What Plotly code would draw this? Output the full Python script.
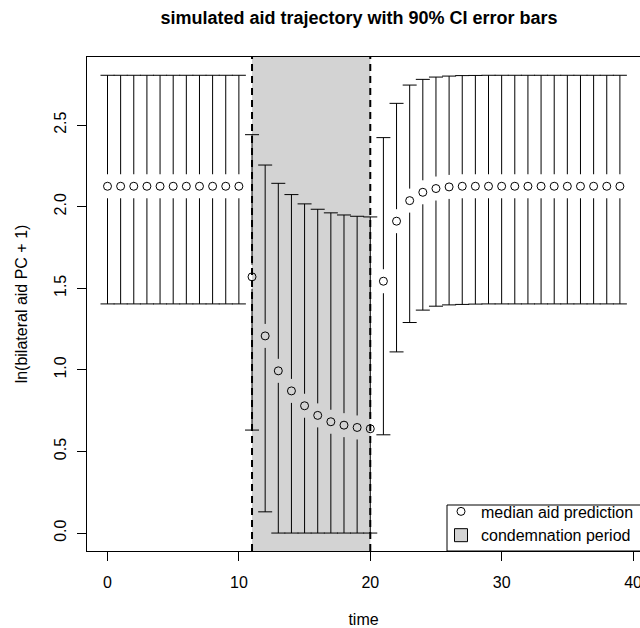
import plotly.graph_objects as go

# ---- data ----
time = list(range(40))
median = [2.125] * 11 + [1.570, 1.208, 0.994, 0.871, 0.780, 0.721, 0.682, 0.661, 0.647, 0.639,
                         1.543, 1.911, 2.037, 2.088, 2.111, 2.121] + [2.125] * 13
upper = [2.805] * 11 + [2.441, 2.255, 2.143, 2.074, 2.017, 1.984, 1.962, 1.949, 1.941, 1.937,
                        2.423, 2.633, 2.745, 2.780, 2.794, 2.800, 2.803, 2.804] + [2.805] * 11
lower = [1.404] * 11 + [0.631, 0.130, 0.0, 0.0, 0.0, 0.0, 0.0, 0.0, 0.0, 0.0,
                        0.602, 1.110, 1.290, 1.366, 1.390, 1.398, 1.401, 1.403] + [1.404] * 11
period_start, period_end = 11, 20
x_ticks = [0, 10, 20, 30, 40]
y_ticks = [0.0, 0.5, 1.0, 1.5, 2.0, 2.5]

# ---- layout geometry ----
W, H = 640, 628
ML, MR, MT, MB = 87, 0, 57, 77
XR = [-1.56, 40.53]
YR = [-0.110, 2.917]
plot_h = H - MT - MB
plot_w = W - ML - MR
GAP_PX = 12
gap = GAP_PX * (YR[1] - YR[0]) / plot_h

FONT = "Liberation Sans, Arial, Helvetica, sans-serif"

# CI segments with a gap around each median point
seg_x, seg_y = [], []
for t, m, u, l in zip(time, median, upper, lower):
    if u > m + gap:
        seg_x += [t, t, None]
        seg_y += [u, m + gap, None]
    if l < m - gap:
        seg_x += [t, t, None]
        seg_y += [m - gap, l, None]

fig = go.Figure()

fig.add_shape(type="rect", xref="x", yref="y domain", x0=period_start, x1=period_end,
              y0=0, y1=1, fillcolor="#d3d3d3", line_width=0, layer="below")

fig.add_trace(go.Scatter(x=seg_x, y=seg_y, mode="lines",
                         line=dict(color="black", width=1),
                         showlegend=False, hoverinfo="skip"))
# caps
fig.add_trace(go.Scatter(x=time + time, y=upper + lower, mode="markers",
                         marker=dict(symbol="line-ew", size=10,
                                     line=dict(color="black", width=1)),
                         showlegend=False, hoverinfo="skip"))
fig.add_trace(go.Scatter(x=time, y=median, mode="markers", name="median aid prediction",
                         marker=dict(symbol="circle-open", size=8,
                                     color="black", line=dict(color="black", width=1))))
fig.add_trace(go.Scatter(x=[None], y=[None], mode="markers", name="condemnation period",
                         marker=dict(symbol="square", size=13, color="#d3d3d3",
                                     line=dict(color="black", width=1))))

for xv in (period_start, period_end):
    fig.add_shape(type="line", xref="x", yref="y domain", x0=xv, x1=xv, y0=0, y1=1,
                  line=dict(color="black", width=2, dash="7px,5px"), layer="above")

# legend box (right side runs past the visible edge)
lx0 = (447 - ML) / plot_w
ly1 = (H - MB - 505) / plot_h
fig.add_shape(type="rect", xref="paper", yref="paper", x0=lx0, x1=1.2, y0=0, y1=ly1,
              line=dict(color="black", width=1), fillcolor="rgba(0,0,0,0)", layer="above")

fig.update_layout(
    width=W, height=H,
    margin=dict(l=ML, r=MR, t=MT, b=MB, autoexpand=False),
    paper_bgcolor="white", plot_bgcolor="white",
    font=dict(family=FONT, size=16, color="black"),
    title=dict(text="simulated aid trajectory with 90% CI error bars",
               font=dict(family=FONT, size=18, color="black", weight="bold"),
               x=359 / W, xanchor="center", xref="container",
               y=1 - 18 / H, yanchor="middle", yref="container"),
    showlegend=True,
    legend=dict(x=(441 - ML) / plot_w, xanchor="left", y=-0.003, yanchor="bottom",
                bgcolor="rgba(0,0,0,0)", borderwidth=0,
                font=dict(family=FONT, size=16, color="black"),
                tracegroupgap=0, itemsizing="trace"),
    xaxis=dict(range=XR, tickvals=x_ticks, ticktext=[str(v) for v in x_ticks],
               showgrid=False, zeroline=False, showline=True, mirror=True,
               linecolor="black", linewidth=1, ticks="outside", ticklen=9,
               tickcolor="black", tickwidth=1, ticklabelstandoff=8,
               ticklabeloverflow="allow",
               title=dict(text="time", standoff=23, font=dict(size=16))),
    yaxis=dict(range=YR, tickvals=y_ticks, ticktext=[f"{v:.1f}" for v in y_ticks],
               tickangle=-90,
               showgrid=False, zeroline=False, showline=True, mirror=False,
               linecolor="black", linewidth=1, ticks="outside", ticklen=9,
               tickcolor="black", tickwidth=1, ticklabelstandoff=5,
               title=dict(text="ln(bilateral aid PC + 1)", standoff=19, font=dict(size=16))),
)

fig.write_html("out.html", config={"displayModeBar": False},
               post_script="document.body.style.margin='0';")
